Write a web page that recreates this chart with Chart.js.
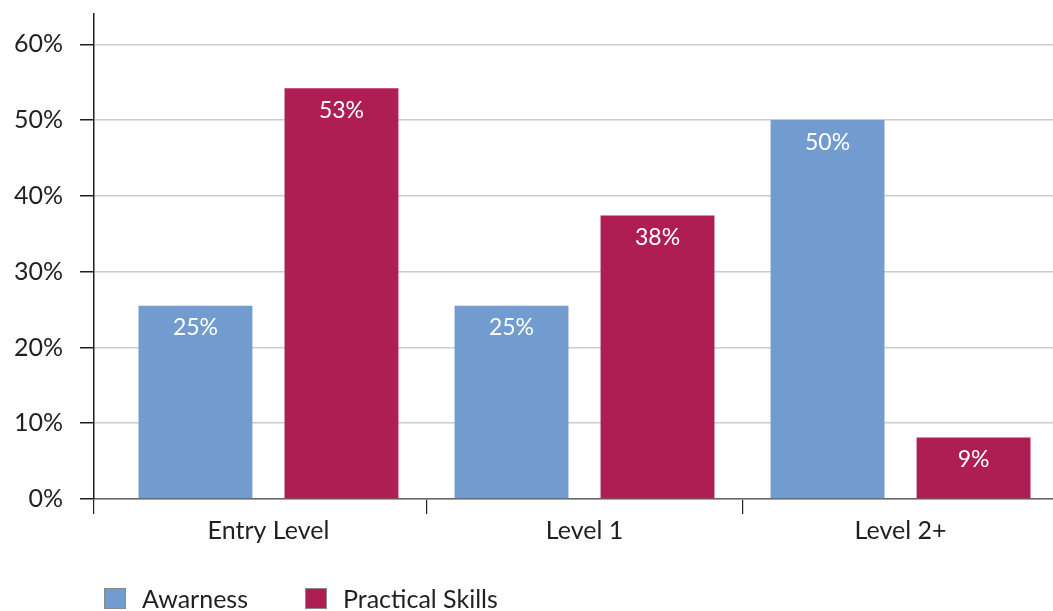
<!DOCTYPE html>
<html>
<head>
<meta charset="utf-8">
<script src="https://cdn.jsdelivr.net/npm/chart.js@4"></script>
<style>
html,body{margin:0;padding:0;background:#fff;overflow:hidden;width:1053px;height:611px;}
canvas{display:block;}
</style>
</head>
<body>
<canvas id="c" width="1075" height="611"></canvas>
<script>
const categories = ["Entry Level", "Level 1", "Level 2+"];
const seriesNames = ["Awarness", "Practical Skills"];
const awareness = [25.5, 25.5, 50.0];
const practical = [54.2, 37.4, 8.1];
const awarenessLabels = ["25%", "25%", "50%"];
const practicalLabels = ["53%", "38%", "9%"];
const yTicks = [0, 10, 20, 30, 40, 50, 60];

const FONT = "Lato, 'Open Sans', sans-serif";
const BLUE = "#729bd0";
const RED = "#ae1e52";
const TEXT = "#231f20";
const X_MIN = -0.552, X_MAX = 2.533;

const toPoints = arr => arr.map((v, i) => ({ x: i, y: v }));

const valueLabels = {
  id: "valueLabels",
  afterDatasetsDraw(chart) {
    const ctx = chart.ctx;
    ctx.save();
    ctx.fillStyle = "#ffffff";
    ctx.font = "23px " + FONT;
    ctx.textAlign = "center";
    ctx.textBaseline = "middle";
    chart.data.datasets.forEach((ds, di) => {
      const meta = chart.getDatasetMeta(di);
      meta.data.forEach((bar, i) => {
        ctx.fillText(ds.valueText[i], bar.x, bar.y + 22);
      });
    });
    ctx.restore();
  }
};

const bottomLegend = {
  id: "bottomLegend",
  afterDraw(chart) {
    const ctx = chart.ctx;
    const left = chart.chartArea.left;
    const offsets = [10, 211];
    ctx.save();
    ctx.font = "25px " + FONT;
    ctx.textBaseline = "middle";
    ctx.textAlign = "left";
    chart.data.datasets.forEach((ds, di) => {
      const x = left + offsets[di];
      const y = 588;
      ctx.fillStyle = ds.backgroundColor;
      ctx.fillRect(x, y, 22, 21);
      ctx.strokeStyle = "#8a8a8a";
      ctx.lineWidth = 1;
      ctx.strokeRect(x + 0.5, y + 0.5, 21, 20);
      ctx.fillStyle = TEXT;
      ctx.fillText(ds.label, x + 38, y + 12);
    });
    ctx.restore();
  }
};

new Chart(document.getElementById("c"), {
  type: "bar",
  data: {
    datasets: [
      { label: seriesNames[0], data: toPoints(awareness), valueText: awarenessLabels, backgroundColor: BLUE },
      { label: seriesNames[1], data: toPoints(practical), valueText: practicalLabels, backgroundColor: RED }
    ]
  },
  options: {
    responsive: false,
    animation: false,
    datasets: { bar: { categoryPercentage: 0.924, barPercentage: 0.78 } },
    layout: { padding: { top: 14, right: 6, left: 0, bottom: 63 } },
    plugins: { legend: { display: false }, tooltip: { enabled: false } },
    scales: {
      x: {
        type: "linear",
        offset: false,
        min: X_MIN, max: X_MAX,
        weight: 1,
        afterBuildTicks(s) { s.ticks = categories.map((c, i) => ({ value: i })); },
        afterFit(s) { s.paddingLeft = 0; s.paddingRight = 0; },
        grid: { display: true, offset: false, drawOnChartArea: false, drawTicks: false },
        border: { display: false },
        ticks: { font: { family: FONT, size: 25 }, color: TEXT, padding: 2, maxRotation: 0, autoSkip: false,
                 callback: v => categories[v] }
      },
      x2: {
        type: "linear",
        position: "bottom",
        offset: false,
        min: X_MIN, max: X_MAX,
        weight: 0,
        afterBuildTicks(s) { s.ticks = [X_MIN, 0.5, 1.5].map(v => ({ value: v })); },
        afterFit(s) { s.paddingLeft = 0; s.paddingRight = 0; },
        grid: { offset: false, drawOnChartArea: false, drawTicks: true, tickLength: 15, color: TEXT, lineWidth: 1.2 },
        border: { color: "#666666", width: 1.5 },
        ticks: { display: false }
      },
      y: {
        min: 0,
        max: 64,
        afterFit(s) { s.width = 94; s.paddingTop = 0; s.paddingBottom = 0; },
        afterBuildTicks(s) { s.ticks = yTicks.map(v => ({ value: v })); },
        grid: { color: "#cccccc", lineWidth: 1.5, tickColor: TEXT, tickLength: 14, drawTicks: true },
        border: { color: TEXT, width: 1.5 },
        ticks: { font: { family: FONT, size: 25 }, color: TEXT, padding: 17, callback: v => v + "%" }
      }
    }
  },
  plugins: [valueLabels, bottomLegend]
});
</script>
</body>
</html>
